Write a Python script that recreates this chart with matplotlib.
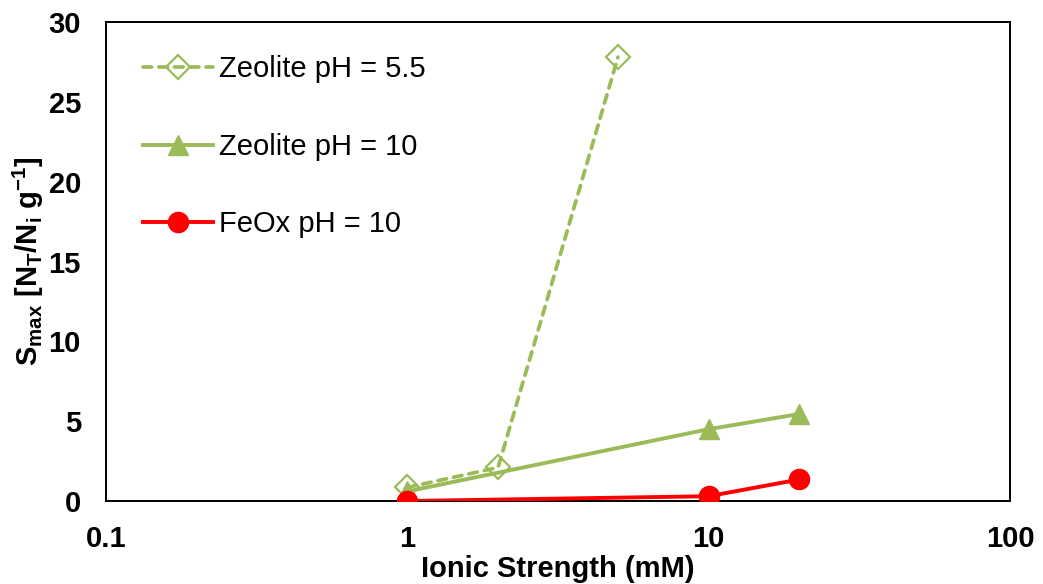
import numpy as np
import matplotlib
matplotlib.use("Agg")
import matplotlib.pyplot as plt
from matplotlib.ticker import FixedLocator, FixedFormatter, NullLocator

#Fonts: Arial-like bold everywhere, math parts bold too
plt.rcParams['font.family'] = 'Liberation Sans'
plt.rcParams['mathtext.fontset'] = 'custom'
plt.rcParams['mathtext.rm'] = 'Liberation Sans:bold'
plt.rcParams['mathtext.it'] = 'Liberation Sans:bold'
plt.rcParams['mathtext.bf'] = 'Liberation Sans:bold'

#Data
zeo55_x = [1, 2, 5]
zeo55_y = [0.85, 2.1, 27.8]
zeo10_x = [1, 10, 20]
zeo10_y = [0.6, 4.5, 5.45]
feox_x = [1, 10, 20]
feox_y = [0.0, 0.3, 1.35]

x_ticks = [0.1, 1, 10, 100]
x_labels = ["0.1", "1", "10", "100"]
y_ticks = [0, 5, 10, 15, 20, 25, 30]

green = "#9BBB59"
red = "#FF0000"
fs = 21

fig = plt.figure(figsize=(10.43, 5.84), dpi=100)
ax = fig.add_axes([0.1016, 0.1421, 0.8668, 0.8202])

ax.plot(zeo55_x, zeo55_y, color=green, lw=2.7, linestyle=(0, (2.3, 1.9)),
        dash_capstyle="round", marker="D", markersize=12, markerfacecolor="none",
        markeredgecolor=green, markeredgewidth=1.6, label="Zeolite pH = 5.5", zorder=3)
ax.plot(zeo10_x, zeo10_y, color=green, lw=2.8, marker="^", markersize=15,
        markerfacecolor=green, markeredgecolor=green, label="Zeolite pH = 10", zorder=2)
ax.plot(feox_x, feox_y, color=red, lw=2.8, marker="o", markersize=14.5,
        markerfacecolor=red, markeredgecolor=red, label="FeOx pH = 10", zorder=4)

#Axes
ax.set_xscale("log")
ax.set_xlim(0.1, 100)
ax.set_ylim(0, 30)
ax.xaxis.set_major_locator(FixedLocator(x_ticks))
ax.xaxis.set_major_formatter(FixedFormatter(x_labels))
ax.xaxis.set_minor_locator(NullLocator())
ax.set_yticks(y_ticks)
ax.tick_params(axis="both", length=0, labelsize=fs)
ax.tick_params(axis="x", pad=17)
ax.tick_params(axis="y", pad=18)
for lab in ax.get_xticklabels() + ax.get_yticklabels():
    lab.set_fontweight("bold")
for sp in ax.spines.values():
    sp.set_linewidth(1.4)
    sp.set_color("black")

ax.set_xlabel("Ionic Strength (mM)", fontsize=fs, fontweight="bold", labelpad=2)
ax.set_ylabel(r"S$_{max}$ [N$_T$/N$_i$ g$^{-1}$]", fontsize=fs, fontweight="bold", labelpad=2)

ax.legend(loc="upper left", bbox_to_anchor=(0.028, 0.955), frameon=False, fontsize=fs,
          handlelength=2.4, handletextpad=0.2, labelspacing=1.7, borderaxespad=0.0)

plt.savefig("out.png", dpi=100)
